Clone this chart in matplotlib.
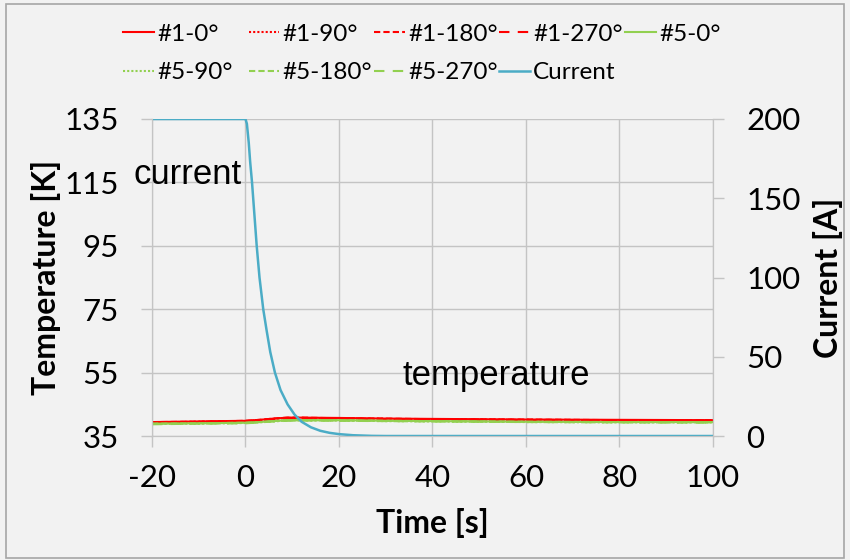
import matplotlib
matplotlib.use("Agg")
import matplotlib.pyplot as plt
from matplotlib.patches import Rectangle

plt.rcParams['font.family'] = ['Lato', 'DejaVu Sans']
plt.rcParams['axes.unicode_minus'] = False

# temperature readings [K]
time_temp = [-20, -10, 0, 3, 6, 9, 12, 20, 30, 40, 60, 80, 100]
t1_0 = [39.4, 39.6, 39.8, 40.1, 40.5, 40.8, 40.8, 40.7, 40.5, 40.4, 40.2, 40.1, 40.0]
t1_90 = [39.3, 39.5, 39.7, 40.0, 40.4, 40.7, 40.7, 40.6, 40.4, 40.3, 40.1, 40.0, 39.9]
t1_180 = [39.4, 39.5, 39.8, 40.1, 40.5, 40.8, 40.8, 40.6, 40.5, 40.3, 40.2, 40.0, 40.0]
t1_270 = [39.2, 39.4, 39.6, 39.9, 40.3, 40.6, 40.6, 40.5, 40.3, 40.2, 40.0, 39.9, 39.9]
t5_0 = [38.9, 39.0, 39.2, 39.4, 39.7, 40.0, 40.0, 40.0, 39.8, 39.7, 39.5, 39.4, 39.4]
t5_90 = [38.8, 38.9, 39.1, 39.3, 39.6, 39.9, 39.9, 39.9, 39.7, 39.6, 39.4, 39.3, 39.3]
t5_180 = [38.9, 39.0, 39.2, 39.4, 39.7, 40.0, 40.0, 39.9, 39.8, 39.7, 39.5, 39.4, 39.3]
t5_270 = [38.7, 38.9, 39.0, 39.3, 39.6, 39.8, 39.9, 39.8, 39.7, 39.6, 39.4, 39.3, 39.2]

# current readings [A]
time_cur = [-20, 0, 0.3, 0.7, 1.0, 1.4, 1.9, 2.4, 3.0, 3.8, 4.5, 5.3, 6.3, 7.5, 9,
            10.5, 12, 14, 16, 18, 20, 23, 27, 30, 100]
current = [200, 200, 197, 185, 173, 160, 140, 120, 100, 80, 67, 53, 40, 29, 20,
           13.5, 9, 5.5, 3.3, 2, 1.2, 0.5, 0.1, 0, 0]

labels = ['#1-0°', '#1-90°', '#1-180°', '#1-270°', '#5-0°',
          '#5-90°', '#5-180°', '#5-270°', 'Current']

red = '#ff0000'
green = '#92d050'
blue = '#4bacc6'
grid_c = '#c4c4c4'
bg = '#f2f2f2'

fig = plt.figure(figsize=(8.5, 5.6), dpi=100, facecolor=bg)
fig.patches.append(Rectangle((0.007, 0.004), 0.986, 0.989, transform=fig.transFigure,
                             fill=False, edgecolor='#a6a6a6', lw=1.2))
ax = fig.add_axes([0.1788, 0.2214, 0.66, 0.5661])
ax.set_facecolor(bg)
ax2 = ax.twinx()

styles = ['-', (0, (1, 1)), (0, (3, 1.5)), (0, (5, 4))]
h = []
for s, y in zip(styles, [t1_0, t1_90, t1_180, t1_270]):
    h += ax.plot(time_temp, y, color=red, lw=1.5, ls=s)
for s, y in zip(styles, [t5_0, t5_90, t5_180, t5_270]):
    h += ax.plot(time_temp, y, color=green, lw=1.5, ls=s)
h += ax2.plot(time_cur, current, color=blue, lw=1.8)

ax.set_xlim(-20, 100)
ax.set_ylim(35, 135)
ax2.set_ylim(0, 200)
ax.set_xticks(range(-20, 101, 20))
ax.set_yticks(range(35, 136, 20))
ax2.set_yticks(range(0, 201, 50))

ax.grid(True, color=grid_c, lw=1)
ax.set_axisbelow(True)
for a in (ax, ax2):
    for sp in a.spines.values():
        sp.set_color(grid_c)
    a.spines['top'].set_visible(False)
ax.tick_params(axis='x', labelsize=22.5, color=grid_c, length=8, width=1, pad=12)
ax.tick_params(axis='y', labelsize=22.5, color=grid_c, length=8, width=1, pad=16)
ax2.tick_params(axis='y', labelsize=22.5, color=grid_c, length=8, width=1, pad=16)

ax.set_xlabel('Time [s]', fontsize=23, fontweight='bold', labelpad=12)
ax.set_ylabel('Temperature [K]', fontsize=23, fontweight='bold', labelpad=2)
ax2.set_ylabel('Current [A]', fontsize=23, fontweight='bold', labelpad=9)

ax.text(-24, 117.5, 'current', fontsize=25, family='Liberation Sans', va='center', clip_on=False)
ax.text(33.5, 54, 'temperature', fontsize=25, family='Liberation Sans', va='center')

# legend laid out like Excel: 5 equal-width columns, filled row by row
col_x = [0.1447, 0.2924, 0.4400, 0.5871, 0.7353]
for c, x in enumerate(col_x):
    idx = [i for i in (c, c + 5) if i < len(h)]
    fig.legend([h[i] for i in idx], [labels[i] for i in idx],
               loc='upper left', bbox_to_anchor=(x, 0.958), frameon=False,
               borderpad=0, borderaxespad=0, fontsize=17.5,
               handlelength=1.27, handletextpad=0.13, labelspacing=0.72)

fig.savefig('out.png', dpi=100, facecolor=bg)
